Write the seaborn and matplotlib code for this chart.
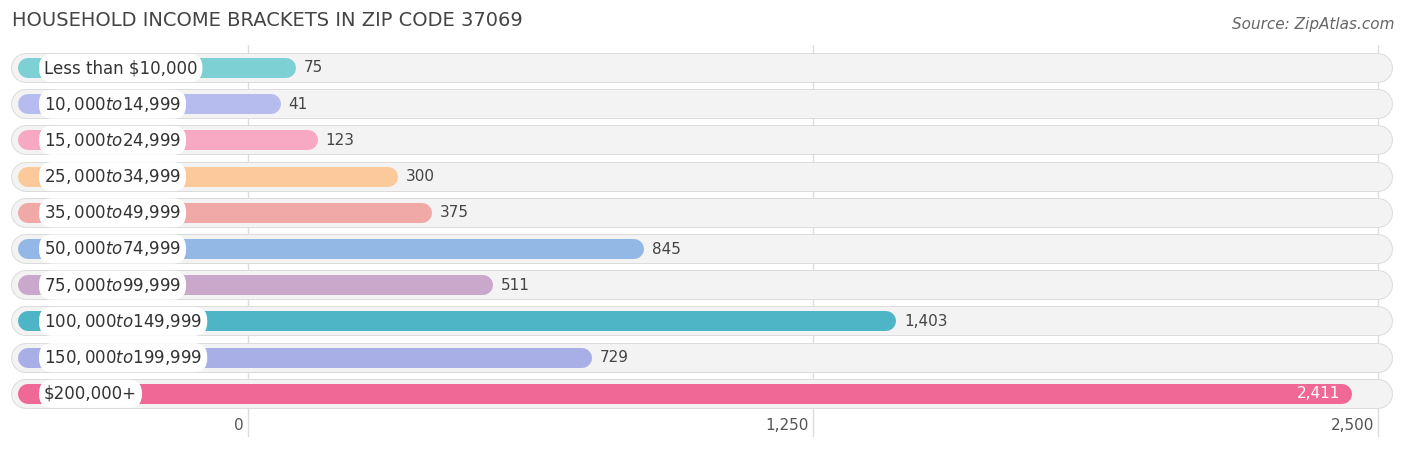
import matplotlib.pyplot as plt
import seaborn as sns

# ── Data ──────────────────────────────────────────────────────────────────────
categories = ['Less than $10,000', '$10,000 to $14,999', '$15,000 to $24,999',
              '$25,000 to $34,999', '$35,000 to $49,999', '$50,000 to $74,999',
              '$75,000 to $99,999', '$100,000 to $149,999', '$150,000 to $199,999',
              '$200,000+']
values = [75, 41, 123, 300, 375, 845, 511, 1403, 729, 2411]
colors = ['#7dd0d4', '#b6bdee', '#f7a8c3', '#fcc99a', '#f0a9a6',
          '#93b8e6', '#c9a8cc', '#4db5c6', '#a8aee6', '#f06896']
ticks = [0, 1250, 2500]
tick_labels = ['0', '1,250', '2,500']

# ── Layout helpers (pixel -> data) ────────────────────────────────────────────
W, H, DPI = 1406, 449, 100
X0, SCALE = 248, 0.452          # pixel of 0, pixels per unit
def px(x):
    return (x - X0) / SCALE
PT = 0.72                        # points per pixel at 100 dpi

sns.set_theme(style='white')
fig = plt.figure(figsize=(W / DPI, H / DPI), dpi=DPI)
ax = fig.add_axes([0, 0, 1, 1])
ax.set_xlim(px(0), px(W))
ax.set_ylim(H, 0)
ax.axis('off')

# gridlines + ticks
for t, lab in zip(ticks, tick_labels):
    ax.plot([t, t], [45, 436], color='#dddddd', lw=1, zorder=0)
    ax.text(t - px(X0 + 4) + px(X0) - 0, 426, lab, ha='right', va='center',
            fontsize=11, color='#555555')

for i, (cat, v, c) in enumerate(zip(categories, values, colors)):
    y = 68 + 36.2 * i
    # background row pill
    ax.plot([px(26), px(1378)], [y, y], color='#dcdcdc', lw=30 * PT,
            solid_capstyle='round', zorder=1)
    ax.plot([px(26), px(1378)], [y, y], color='#f3f3f3', lw=28 * PT,
            solid_capstyle='round', zorder=2)
    # bar
    end = v + px(X0 + 14) - 10 / SCALE
    ax.plot([px(28), end], [y, y], color=c, lw=20 * PT,
            solid_capstyle='round', zorder=3)
    # category label pill
    ax.text(px(44), y, cat, ha='left', va='center', fontsize=12, color='#333333',
            zorder=5, bbox=dict(boxstyle='round,pad=0.3,rounding_size=0.8',
                                fc='white', ec='none'))
    # value label
    bar_end_px = X0 + 14 + v * SCALE
    if v > 2000:
        ax.text(px(bar_end_px - 12), y, f'{v:,}', ha='right', va='center',
                fontsize=11, color='white', zorder=6)
    else:
        ax.text(px(bar_end_px + 8), y, f'{v:,}', ha='left', va='center',
                fontsize=11, color='#444444', zorder=6)

ax.text(px(12), 20, 'HOUSEHOLD INCOME BRACKETS IN ZIP CODE 37069', ha='left',
        va='center', fontsize=14, color='#444444')
ax.text(px(1394), 24, 'Source: ZipAtlas.com', ha='right', va='center',
        fontsize=11, color='#666666', style='italic')

fig.savefig('out.png', dpi=DPI)
